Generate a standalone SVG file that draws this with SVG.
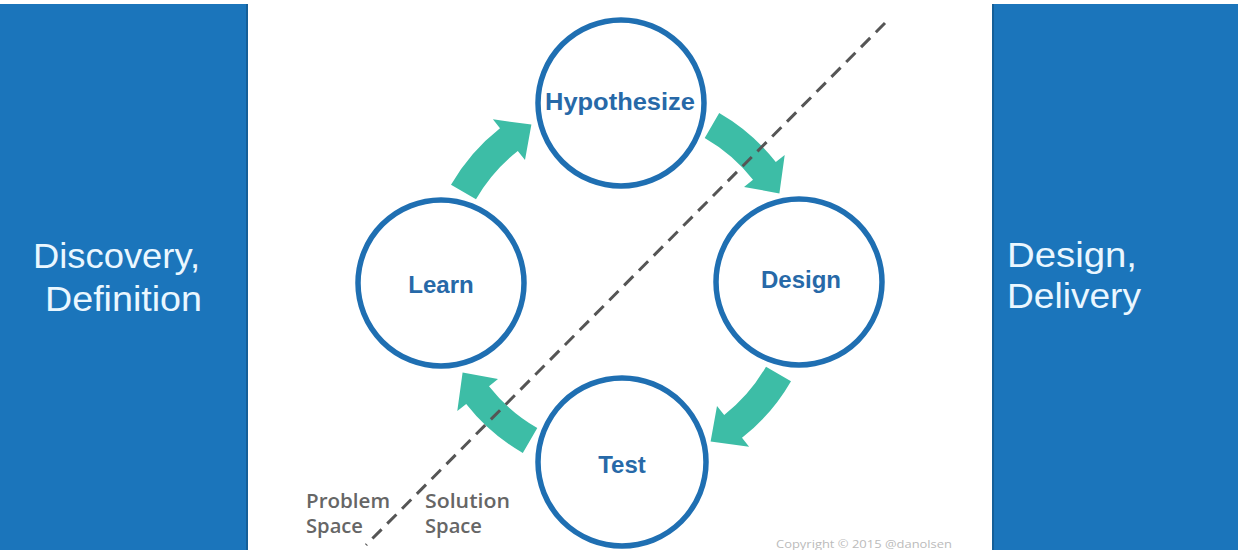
<svg xmlns="http://www.w3.org/2000/svg" width="1238" height="550" viewBox="0 0 1238 550">
<defs>
<style>
.panel{fill:#1b75bb}
.side{font-family:"Liberation Sans",Arial,sans-serif;font-size:35px;fill:#eaf7ff}
.node circle{fill:#ffffff;stroke:#1f6fb2;stroke-width:5.5}
.node text{font-family:"Liberation Sans",Arial,sans-serif;font-weight:bold;font-size:24px;fill:#2769a8;text-anchor:middle}
.arrow{fill:#3dbda6}
.space{font-family:"Open Sans","Liberation Sans",sans-serif;font-weight:600;font-size:19px;fill:#666666}
.copy{font-family:"Open Sans","Liberation Sans",sans-serif;font-size:11px;fill:#bbbbbb}
</style>
<path id="arc-arrow" d="M451.0,184.8 A196.5,196.5 0 0 1 500.0,128.2 L492.9,119.3 L531.4,124.6 L525.0,160.0 L517.8,151.0 A167.5,167.5 0 0 0 476.0,199.3 Z"/>
</defs>
<rect x="0" y="0" width="1238" height="550" fill="#ffffff"/>
<g id="panel-left">
<rect class="panel" x="0" y="4" width="248" height="546"/>
<rect x="246" y="4" width="2" height="546" fill="#155f98"/>
<text class="side" x="33" y="268" textLength="167" lengthAdjust="spacingAndGlyphs">Discovery,</text>
<text class="side" x="45" y="311" textLength="157" lengthAdjust="spacingAndGlyphs">Definition</text>
</g>
<g id="panel-right">
<rect class="panel" x="992" y="4" width="246" height="546"/>
<rect x="992" y="4" width="2" height="546" fill="#155f98"/>
<text class="side" x="1007" y="267" textLength="130" lengthAdjust="spacingAndGlyphs">Design,</text>
<text class="side" x="1007" y="308" textLength="134" lengthAdjust="spacingAndGlyphs">Delivery</text>
</g>
<g id="connectors">
<use href="#arc-arrow" class="arrow"/>
<use href="#arc-arrow" class="arrow" transform="rotate(90 621 283)"/>
<use href="#arc-arrow" class="arrow" transform="rotate(180 621 283)"/>
<use href="#arc-arrow" class="arrow" transform="rotate(270 621 283)"/>
</g>
<g id="node-hypothesize" class="node">
<circle cx="621" cy="103" r="83"/>
<text x="620" y="110" textLength="150" lengthAdjust="spacingAndGlyphs">Hypothesize</text>
</g>
<g id="node-learn" class="node">
<circle cx="441" cy="283" r="83"/>
<text x="441" y="293">Learn</text>
</g>
<g id="node-design" class="node">
<circle cx="799" cy="282" r="83"/>
<text x="801" y="288">Design</text>
</g>
<g id="node-test" class="node">
<circle cx="622" cy="462" r="84"/>
<text x="622" y="473">Test</text>
</g>
<g id="divider">
<line x1="885" y1="23" x2="366" y2="545" stroke="#555555" stroke-width="3" stroke-dasharray="13 8"/>
</g>
<g id="labels">
<text class="space" x="306" y="508" textLength="84" lengthAdjust="spacingAndGlyphs">Problem</text>
<text class="space" x="306" y="533" textLength="57" lengthAdjust="spacingAndGlyphs">Space</text>
<text class="space" x="425" y="508" textLength="85" lengthAdjust="spacingAndGlyphs">Solution</text>
<text class="space" x="425" y="533" textLength="57" lengthAdjust="spacingAndGlyphs">Space</text>
<text class="copy" x="776" y="548" textLength="176" lengthAdjust="spacingAndGlyphs">Copyright © 2015 @danolsen</text>
</g>
</svg>
